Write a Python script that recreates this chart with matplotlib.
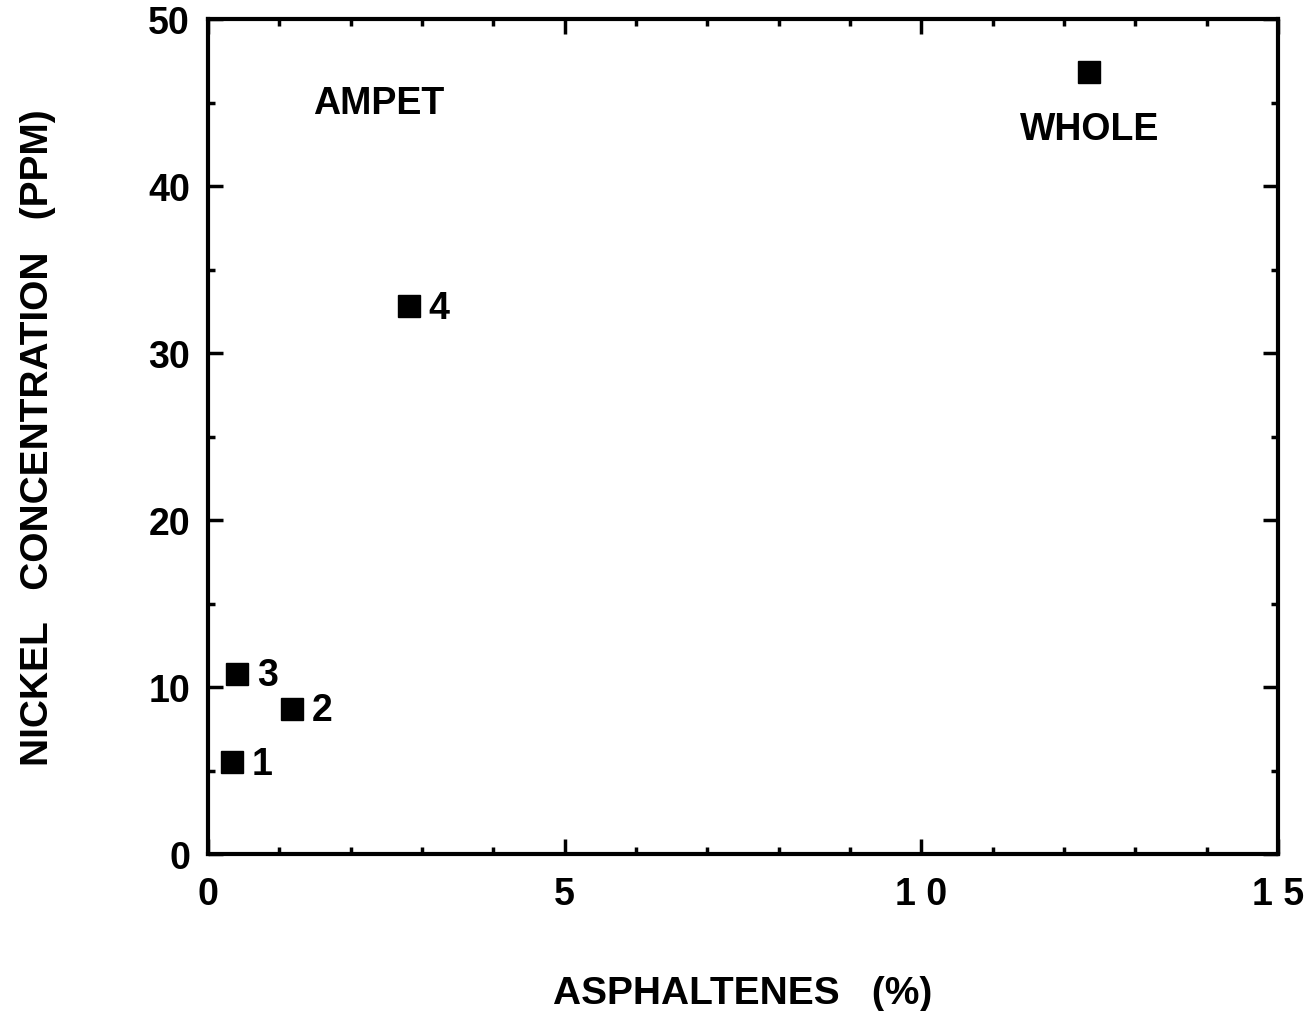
import matplotlib

matplotlib.use("Agg")
import matplotlib.pyplot as plt
from matplotlib.ticker import MultipleLocator

plt.rcParams["font.family"] = ["Liberation Sans", "DejaVu Sans"]
plt.rcParams["font.weight"] = "bold"

# ── 数据 ──
labels = ["1", "2", "3", "4"]
asphaltenes = [0.34, 1.18, 0.41, 2.82]
nickel = [5.5, 8.7, 10.8, 32.8]
whole_x = [12.35]
whole_y = [46.8]

x_ticks = [0, 5, 10, 15]
x_ticklabels = ["0", "5", "1 0", "1 5"]
y_ticks = [0, 10, 20, 30, 40, 50]

FS = 27

fig = plt.figure(figsize=(13.1, 10.12), dpi=100)
ax = fig.add_axes([0.1588, 0.1551, 0.8168, 0.8251])

ax.plot(asphaltenes, nickel, "s", color="black", markersize=15.5, linestyle="none")
ax.plot(whole_x, whole_y, "s", color="black", markersize=15.5, linestyle="none")

for lab, x, y in zip(labels, asphaltenes, nickel):
    ax.annotate(lab, (x, y), textcoords="offset points", xytext=(14, -1),
                ha="left", va="center", fontsize=FS, fontweight="bold")

ax.text(1.47, 45.0, "AMPET", fontsize=FS, fontweight="bold", va="center", ha="left")
ax.text(11.38, 43.4, "WHOLE", fontsize=FS, fontweight="bold", va="center", ha="left")

ax.set_xlim(0, 15)
ax.set_ylim(0, 50)
ax.set_xticks(x_ticks)
ax.set_xticklabels(x_ticklabels)
ax.set_yticks(y_ticks)
ax.xaxis.set_minor_locator(MultipleLocator(1))
ax.yaxis.set_minor_locator(MultipleLocator(5))
ax.tick_params(which="both", direction="in", top=True, right=True, width=2.5,
               labelsize=FS)
ax.tick_params(axis="x", which="major", pad=16)
ax.tick_params(axis="y", which="major", pad=13)
ax.tick_params(which="major", length=11)
ax.tick_params(which="minor", length=5)
for lbl in ax.get_xticklabels() + ax.get_yticklabels():
    lbl.set_fontweight("bold")
for s in ax.spines.values():
    s.set_linewidth(3)

ax.set_xlabel("ASPHALTENES   (%)", fontsize=28, fontweight="bold", labelpad=45)
ax.set_ylabel("NICKEL   CONCENTRATION   (PPM)", fontsize=28,
              fontweight="bold", labelpad=66)

fig.savefig("out.png", dpi=100, facecolor="white")
